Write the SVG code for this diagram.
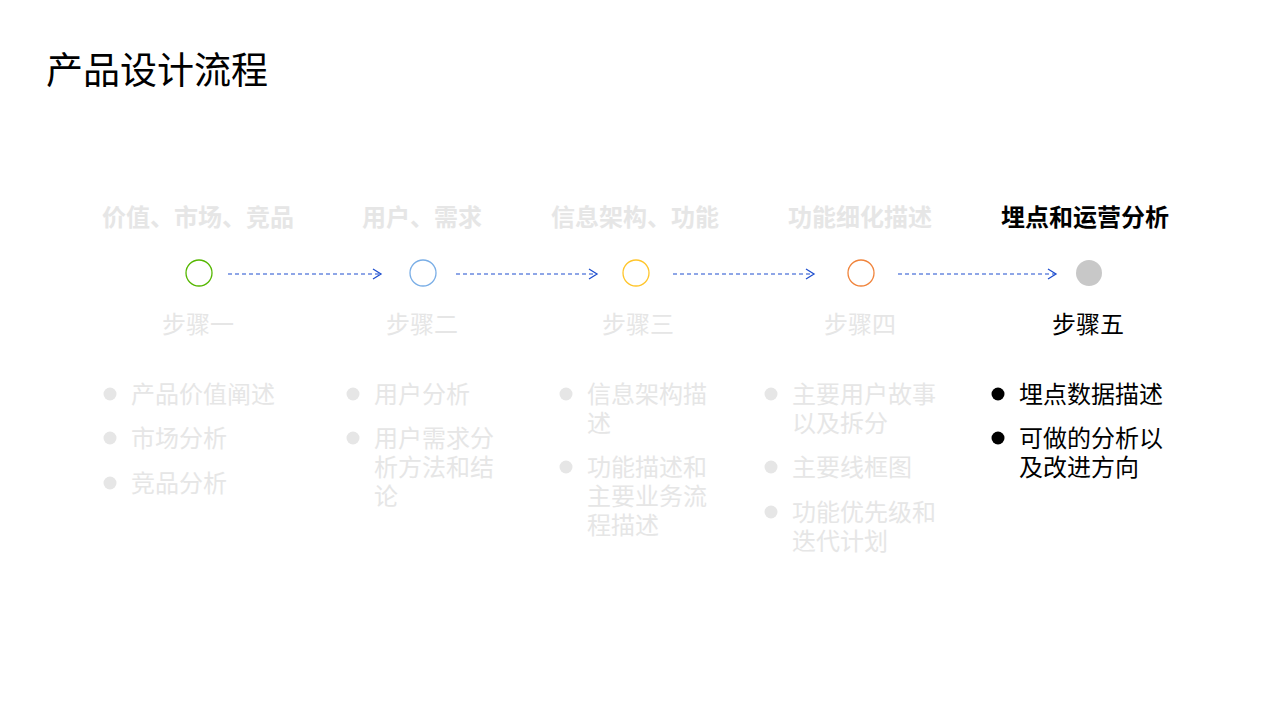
<svg xmlns="http://www.w3.org/2000/svg" width="1280" height="720" viewBox="0 0 1280 720">
<style>
text{font-family:"Noto Sans CJK SC","Noto Sans",sans-serif}
.h{font-size:24px;font-weight:bold;fill:#e6e6e6;text-anchor:middle}
.s{font-size:24px;fill:#e6e6e6;text-anchor:middle}
.b{font-size:24px;fill:#e6e6e6}
.dot{fill:#e6e6e6}
.on{fill:#000}
.c{fill:none;stroke-width:1.3}
.l{stroke:#1f4fcf;stroke-width:1.2;stroke-dasharray:4 3;fill:none}
.m{stroke:#1f4fcf;stroke-width:1.3;fill:none}
</style>
<rect width="1280" height="720" fill="#fff"/>
<text x="46" y="84" font-size="37" fill="#000">产品设计流程</text>
<g id="connectors">
<line class="l" x1="228" y1="274" x2="380" y2="274"/><polyline class="m" points="373,269 381,274 373,279"/>
<line class="l" x1="456" y1="274" x2="596" y2="274"/><polyline class="m" points="589,269 597,274 589,279"/>
<line class="l" x1="673" y1="274" x2="813" y2="274"/><polyline class="m" points="806,269 814,274 806,279"/>
<line class="l" x1="898" y1="274" x2="1055" y2="274"/><polyline class="m" points="1048,269 1056,274 1048,279"/>
</g>
<g id="step1">
<text class="h" x="198" y="226">价值、市场、竞品</text>
<circle class="c" cx="199" cy="273" r="13" stroke="#55b700"/>
<text class="s" x="198" y="333">步骤一</text>
<circle class="dot" cx="110" cy="394" r="6.5"/><text class="b" x="131" y="403">产品价值阐述</text>
<circle class="dot" cx="110" cy="438" r="6.5"/><text class="b" x="131" y="447">市场分析</text>
<circle class="dot" cx="110" cy="483" r="6.5"/><text class="b" x="131" y="492">竞品分析</text>
</g>
<g id="step2">
<text class="h" x="422" y="226">用户、需求</text>
<circle class="c" cx="423" cy="273" r="13" stroke="#7aaee6"/>
<text class="s" x="422" y="333">步骤二</text>
<circle class="dot" cx="353" cy="394" r="6.5"/><text class="b" x="374" y="403">用户分析</text>
<circle class="dot" cx="353" cy="438" r="6.5"/><text class="b" x="374" y="447">用户需求分</text><text class="b" x="374" y="476">析方法和结</text><text class="b" x="374" y="505">论</text>
</g>
<g id="step3">
<text class="h" x="635" y="226">信息架构、功能</text>
<circle class="c" cx="636" cy="273" r="13" stroke="#ffc52b"/>
<text class="s" x="638" y="333">步骤三</text>
<circle class="dot" cx="566" cy="394" r="6.5"/><text class="b" x="587" y="403">信息架构描</text><text class="b" x="587" y="432">述</text>
<circle class="dot" cx="566" cy="467" r="6.5"/><text class="b" x="587" y="476">功能描述和</text><text class="b" x="587" y="505">主要业务流</text><text class="b" x="587" y="534">程描述</text>
</g>
<g id="step4">
<text class="h" x="860" y="226">功能细化描述</text>
<circle class="c" cx="861" cy="273" r="13" stroke="#f0843c"/>
<text class="s" x="860" y="333">步骤四</text>
<circle class="dot" cx="771" cy="394" r="6.5"/><text class="b" x="792" y="403">主要用户故事</text><text class="b" x="792" y="432">以及拆分</text>
<circle class="dot" cx="771" cy="467" r="6.5"/><text class="b" x="792" y="476">主要线框图</text>
<circle class="dot" cx="771" cy="512" r="6.5"/><text class="b" x="792" y="521">功能优先级和</text><text class="b" x="792" y="550">迭代计划</text>
</g>
<g id="step5">
<text class="h" x="1085" y="226" style="fill:#000">埋点和运营分析</text>
<circle cx="1089" cy="273" r="13" fill="#c8c8c8"/>
<text class="s" x="1088" y="333" style="fill:#000">步骤五</text>
<circle class="on" cx="998" cy="394" r="6.5"/><text class="b" x="1019" y="403" style="fill:#000">埋点数据描述</text>
<circle class="on" cx="998" cy="438" r="6.5"/><text class="b" x="1019" y="447" style="fill:#000">可做的分析以</text><text class="b" x="1019" y="476" style="fill:#000">及改进方向</text>
</g>
</svg>
